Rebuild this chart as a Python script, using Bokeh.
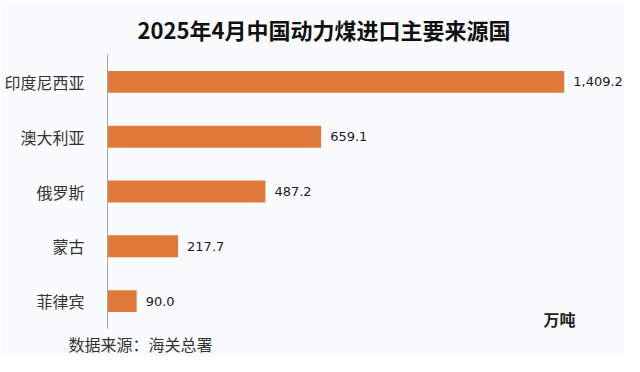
from bokeh.plotting import figure
from bokeh.models import Range1d, FactorRange, ColumnDataSource, Label, Title
from bokeh.core.properties import value
from bokeh.embed import file_html
from bokeh.resources import INLINE

countries = ["印度尼西亚", "澳大利亚", "俄罗斯", "蒙古", "菲律宾"]
volumes = [1409.2, 659.1, 487.2, 217.7, 90.0]
value_labels = ["1,409.2", "659.1", "487.2", "217.7", "90.0"]
title_text = "2025年4月中国动力煤进口主要来源国"
unit_text = "万吨"
source_text = "数据来源：海关总署"

BG = "#FAFBFD"
BAR = "#E0793A"
CJK = "Noto Sans CJK SC"

src = ColumnDataSource(dict(country=countries, vol=volumes, lab=value_labels))

p = figure(width=624, height=356, output_backend="svg", toolbar_location=None,
           y_range=FactorRange(factors=list(reversed(countries))),
           x_range=Range1d(0, 1595),
           min_border_left=107, min_border_right=0, min_border_top=53, min_border_bottom=26)

p.background_fill_color = BG
p.border_fill_color = BG
p.outline_line_color = None
p.grid.grid_line_color = None
p.xaxis.visible = False

p.hbar(y="country", right="vol", left=0, height=0.4, source=src,
       fill_color=BAR, line_color=None)
p.text(x="vol", y="country", text="lab", source=src, x_offset=9,
       text_baseline="middle", text_align="left", text_font=value("DejaVu Sans"),
       text_font_size="13px", text_color="#1a1a1a")

ya = p.yaxis[0]
ya.axis_line_color = "#A6A6A6"
ya.axis_line_width = 1
ya.major_tick_line_color = None
ya.minor_tick_line_color = None
ya.major_label_standoff = 17
ya.major_label_text_font = CJK
ya.major_label_text_font_size = "16px"
ya.major_label_text_color = "#333333"

t = Title(text=title_text, align="left", offset=30, standoff=20, text_font=CJK,
          text_font_size="22px", text_font_style="bold", text_color="#111111")
p.add_layout(t, "above")

foot = Title(text=source_text, align="left", offset=-39, standoff=2, text_font=CJK,
             text_font_size="16px", text_font_style="normal", text_color="#333333")
p.add_layout(foot, "below")

p.add_layout(Label(x=1345, y=10, x_units="data", y_units="screen", text=unit_text,
                   text_font=CJK, text_font_size="16px", text_font_style="bold",
                   text_color="#222222", text_baseline="middle", text_align="left"))

open("out.html", "w").write(file_html(p, INLINE))
